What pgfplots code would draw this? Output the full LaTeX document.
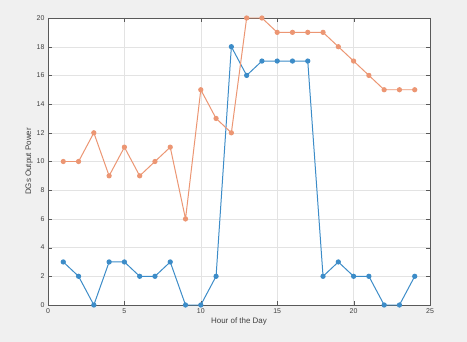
\documentclass[border=0pt]{standalone}
\usepackage{fontspec}
\setmainfont{Liberation Sans}
\usepackage{pgfplots}
\pgfplotsset{compat=1.18}
\definecolor{mblue}{RGB}{60,140,200}
\definecolor{morange}{RGB}{236,150,115}
\definecolor{figbg}{RGB}{240,240,240}
\begin{document}
\begin{tikzpicture}
\fill[figbg] (-48bp,-37bp) rectangle (419bp,305bp);
\useasboundingbox (-48bp,-37bp) rectangle (419bp,305bp);
\begin{axis}[
  at={(0,0)}, anchor=south west,
  scale only axis, width=382bp, height=287bp,
  xmin=0, xmax=25, ymin=0, ymax=20,
  xtick={0,5,...,25}, ytick={0,2,...,20},
  grid=major,
  major grid style={draw=gray!22},
  axis line style={draw=gray!70!black},
  tick style={draw=gray!70!black},
  tick align=inside,
  axis background/.style={fill=white},
  tick label style={font=\fontsize{7}{8}\selectfont, text=black!75},
  label style={font=\fontsize{8}{9}\selectfont, text=black!75},
  xlabel={Hour of the Day},
  ylabel={DGs Output Power},
  xlabel style={yshift=3pt},
  ylabel style={yshift=-3pt},
  /pgf/number format/assume math mode=true,
]
\addplot[color=mblue, line width=1pt, mark=*, mark size=2.1pt, mark options={fill=mblue}]
coordinates {(1,3)(2,2)(3,0)(4,3)(5,3)(6,2)(7,2)(8,3)(9,0)(10,0)(11,2)(12,18)(13,16)(14,17)(15,17)(16,17)(17,17)(18,2)(19,3)(20,2)(21,2)(22,0)(23,0)(24,2)};
\addplot[color=morange, line width=1pt, mark=*, mark size=2.1pt, mark options={fill=morange}]
coordinates {(1,10)(2,10)(3,12)(4,9)(5,11)(6,9)(7,10)(8,11)(9,6)(10,15)(11,13)(12,12)(13,20)(14,20)(15,19)(16,19)(17,19)(18,19)(19,18)(20,17)(21,16)(22,15)(23,15)(24,15)};
\end{axis}
\end{tikzpicture}
\end{document}
